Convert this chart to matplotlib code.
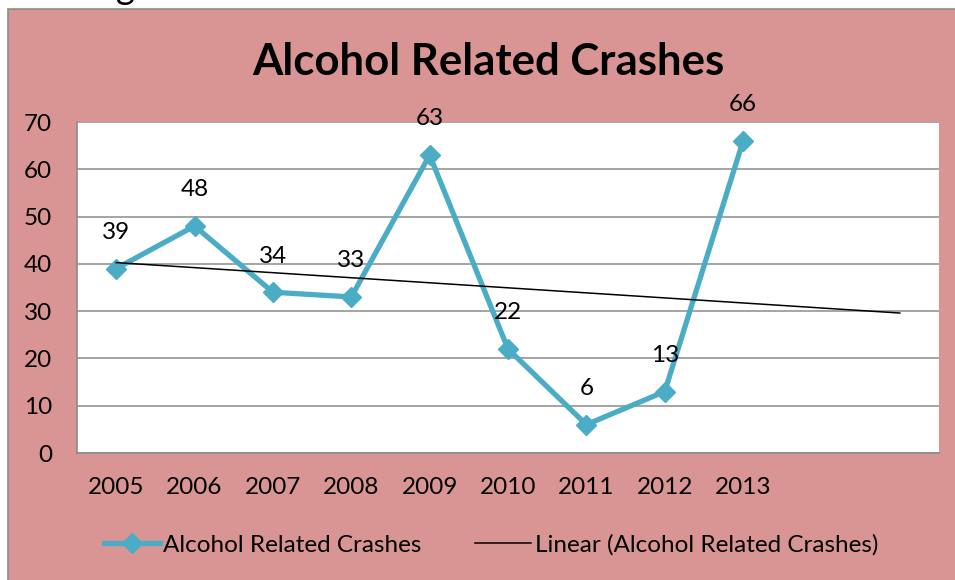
import numpy as np
import matplotlib
matplotlib.use('Agg')
from matplotlib import pyplot as plt
from matplotlib.patches import Rectangle

# alcohol related crashes per year, with a linear trend forecast 2 periods ahead.

years = ['2005', '2006', '2007', '2008', '2009', '2010', '2011', '2012', '2013']
crashes = [39, 48, 34, 33, 63, 22, 6, 13, 66]
y_ticks = [0, 10, 20, 30, 40, 50, 60, 70]
FORECAST = 2

PINK = '#D99594'
TEAL = '#4BACC6'
GRID = '#8C8C8C'
FS = 17.5

plt.rcParams['font.family'] = ['Lato', 'DejaVu Sans']

W, H = 955, 580
fig = plt.figure(figsize=(W / 100, H / 100), dpi=100)
fig.patch.set_facecolor('white')

# chart area (pink box, runs off the right and bottom edges)
fig.patches.append(Rectangle((8 / W, -0.05), 1.2, (H - 9) / H + 0.05, transform=fig.transFigure,
                             facecolor=PINK, edgecolor='#8C8C8C', lw=1.2, zorder=-1))
# tail of a letter from the surrounding document
fig.text(125 / W, 1 + 1 / H, 'g', fontsize=26, ha='center', va='baseline', zorder=-2)

ax = fig.add_axes([77 / W, (H - 453) / H, (939 - 77) / W, (453 - 122) / H])
ax.set_zorder(1)
ax.set_facecolor('white')

x = np.arange(len(years))
ax.plot(x, crashes, color=TEAL, lw=3.8, marker='D', ms=10.5, mew=1, mec=TEAL, mfc=TEAL,
        label='Alcohol Related Crashes', zorder=3, solid_joinstyle='miter')

slope, intercept = np.polyfit(x, crashes, 1)
xt = np.array([0, len(years) - 1 + FORECAST])
ax.plot(xt, slope * xt + intercept, color='black', lw=1.1,
        label='Linear (Alcohol Related Crashes)', zorder=4)

for xi, v in zip(x, crashes):
    ax.annotate(str(v), (xi, v), xytext=(0, 26), textcoords='offset points',
                ha='center', va='center', fontsize=FS, zorder=5, annotation_clip=False)

ax.set_xlim(-0.5, len(years) - 1 + FORECAST + 0.5)
ax.set_ylim(0, 70)
ax.set_yticks(y_ticks)
ax.set_xticks(x)
ax.set_xticklabels(years)
ax.tick_params(axis='both', length=0, labelsize=FS)
ax.tick_params(axis='y', pad=18)
ax.tick_params(axis='x', pad=17)
ax.grid(axis='y', color=GRID, lw=1.1)
ax.set_axisbelow(True)
for s in ['top', 'right']:
    ax.spines[s].set_visible(False)
for s in ['left', 'bottom']:
    ax.spines[s].set_color(GRID)
    ax.spines[s].set_linewidth(1.2)

fig.text(488 / W, 1 - 62 / H, 'Alcohol Related Crashes', fontsize=31.5, fontweight='bold',
         ha='center', va='center')

fig.legend(loc='center', bbox_to_anchor=(491 / W, 35 / H), ncol=2, frameon=False,
           fontsize=FS, handlelength=2.3, handletextpad=0.15, columnspacing=2.2)

fig.savefig('out.png', dpi=100, facecolor=fig.get_facecolor())
